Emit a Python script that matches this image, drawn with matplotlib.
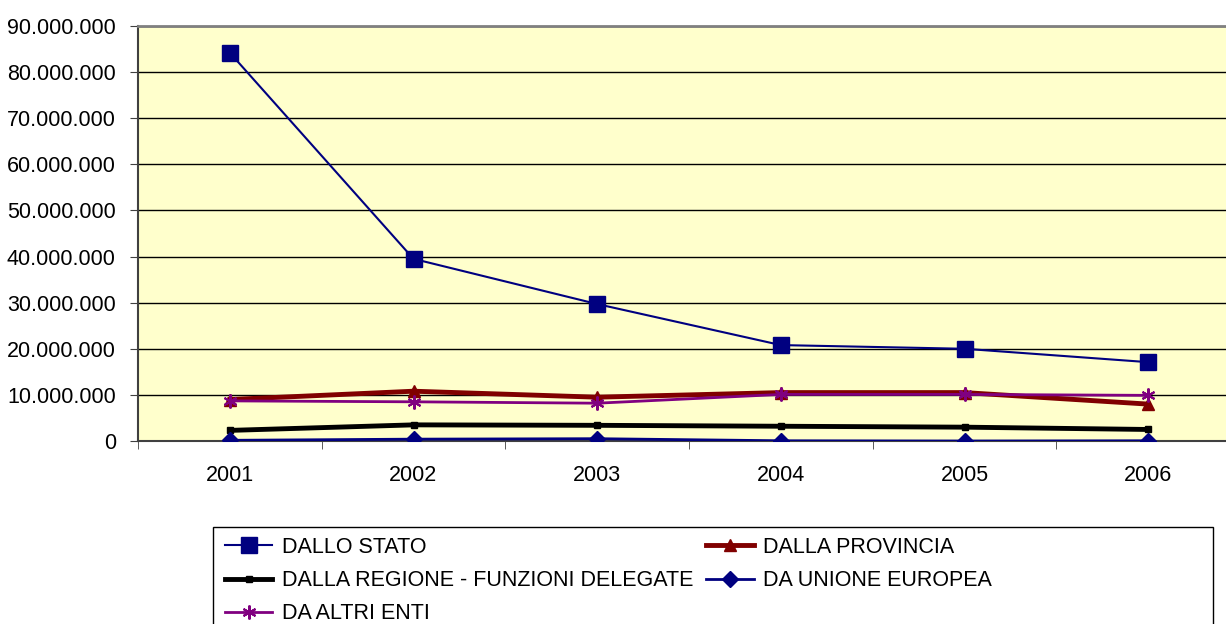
import matplotlib
matplotlib.use('Agg')
import matplotlib.pyplot as plt
from matplotlib.patches import Rectangle
from matplotlib.ticker import FuncFormatter, FixedLocator

plt.rcParams['font.family'] = ['Liberation Sans', 'DejaVu Sans']

# Dati
anni = ['2001', '2002', '2003', '2004', '2005', '2006']
dallo_stato = [84200000, 39500000, 29700000, 20800000, 20000000, 17100000]
dalla_provincia = [9000000, 10800000, 9500000, 10500000, 10500000, 8000000]
dalla_regione = [2300000, 3500000, 3400000, 3200000, 3000000, 2500000]
da_ue = [150000, 400000, 500000, 50000, 0, 50000]
da_altri_enti = [8700000, 8500000, 8200000, 10100000, 10100000, 9900000]

W, H = 1226, 624
fig = plt.figure(figsize=(W / 100, H / 100), dpi=100)
ax = fig.add_axes([138 / W, (H - 441) / H, (1240 - 138) / W, 415 / H])
ax.set_facecolor('#FFFFCC')

x = list(range(len(anni)))
l_stato, = ax.plot(x, dallo_stato, color='#000080', lw=1.5, marker='s',
                   markersize=11, label='DALLO STATO', zorder=6)
l_prov, = ax.plot(x, dalla_provincia, color='#800000', lw=3.5, marker='^',
                  markersize=9, label='DALLA PROVINCIA', zorder=3)
l_reg, = ax.plot(x, dalla_regione, color='black', lw=3.5, marker='s',
                 markersize=4, label='DALLA REGIONE - FUNZIONI DELEGATE', zorder=3)
l_ue, = ax.plot(x, da_ue, color='#000080', lw=2, marker='D',
                markersize=8, label='DA UNIONE EUROPEA', zorder=4)
l_altri, = ax.plot(x, da_altri_enti, color='#800080', lw=2, marker=(6, 2, 0),
                   markersize=10, markeredgewidth=1.5, label='DA ALTRI ENTI', zorder=5)

ax.set_xlim(-0.5, len(anni) - 0.5)
ax.set_ylim(0, 90000000)
ax.set_yticks(range(0, 90000001, 10000000))
ax.yaxis.set_major_formatter(FuncFormatter(lambda v, p: f'{int(v):,}'.replace(',', '.')))
ax.grid(axis='y', color='black', lw=1)
ax.set_axisbelow(True)

ax.set_xticks(x)
ax.set_xticklabels(anni)
ax.xaxis.set_minor_locator(FixedLocator([i - 0.5 for i in range(len(anni) + 1)]))
ax.tick_params(axis='x', which='major', length=0, pad=17, labelsize=15.5)
ax.tick_params(axis='x', which='minor', length=6, color='#404040', direction='out')
ax.tick_params(axis='y', length=6, color='#404040', pad=10, labelsize=15.5)

for s in ['top', 'right']:
    ax.spines[s].set_color('#808080')
    ax.spines[s].set_linewidth(2)
ax.spines['left'].set_color('#404040')
ax.spines['bottom'].set_color('#404040')
ax.spines['left'].set_linewidth(1.5)
ax.spines['bottom'].set_linewidth(1.5)

# Legenda
handles = [l_stato, l_reg, l_altri, l_prov, l_ue]
fig.legend(handles=handles, labels=[h.get_label() for h in handles], ncol=2,
           loc='upper left', bbox_to_anchor=(225 / W, 1 - 537 / H),
           frameon=False, fontsize=15.5, handlelength=2.2, handletextpad=0.45,
           columnspacing=0.6, labelspacing=0.56, borderpad=0, borderaxespad=0)
fig.patches.append(Rectangle((213 / W, -0.05), 1000 / W, (H - 527) / H + 0.05,
                             transform=fig.transFigure, fill=False,
                             edgecolor='black', lw=1))

fig.savefig('out.png', dpi=100)
